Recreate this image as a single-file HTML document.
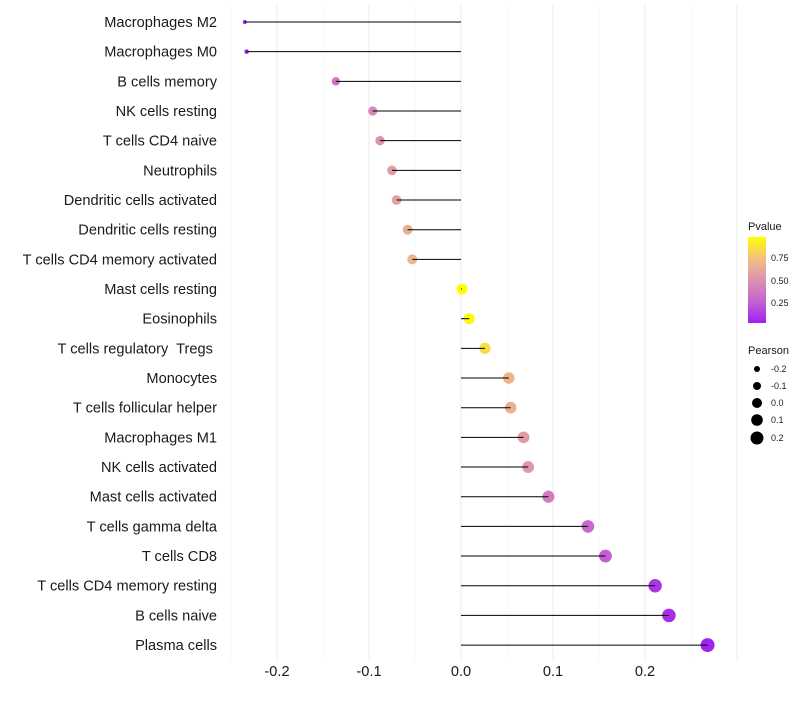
<!DOCTYPE html>
<html><head><meta charset="utf-8"><style>
body{margin:0;background:#fff;font-family:"Liberation Sans",sans-serif}
text{white-space:pre}
</style></head><body>
<svg id="chart" width="800" height="700" xmlns="http://www.w3.org/2000/svg">
<defs><linearGradient id="pg" x1="0" y1="1" x2="0" y2="0">
<stop offset="0" stop-color="#a020f0"/><stop offset="0.25" stop-color="#c463d0"/><stop offset="0.5" stop-color="#dc92b0"/><stop offset="0.75" stop-color="#f2c080"/><stop offset="1" stop-color="#ffff00"/></linearGradient></defs>
<g id="grid"></g><g id="marks"></g><g id="labels"></g>
<g>
<text x="748" y="230" font-size="11" fill="#1a1a1a">Pvalue</text>
<rect x="748" y="237" width="18" height="86" fill="url(#pg)"/>
<text x="771" y="261" font-size="9" fill="#1a1a1a">0.75</text>
<text x="771" y="284" font-size="9" fill="#1a1a1a">0.50</text>
<text x="771" y="306" font-size="9" fill="#1a1a1a">0.25</text>
</g>
<g>
<text x="748" y="354" font-size="11" fill="#1a1a1a">Pearson</text>
<circle cx="757" cy="369" r="3" fill="#000"/><text x="771" y="372" font-size="9" fill="#1a1a1a">-0.2</text>
<circle cx="757" cy="386" r="4" fill="#000"/><text x="771" y="389" font-size="9" fill="#1a1a1a">-0.1</text>
<circle cx="757" cy="403" r="5" fill="#000"/><text x="771" y="406" font-size="9" fill="#1a1a1a">0.0</text>
<circle cx="757" cy="420" r="5.8" fill="#000"/><text x="771" y="423" font-size="9" fill="#1a1a1a">0.1</text>
<circle cx="757" cy="438" r="6.5" fill="#000"/><text x="771" y="441" font-size="9" fill="#1a1a1a">0.2</text>
</g>
</svg>
<script>
const categories=["Macrophages M2","Macrophages M0","B cells memory","NK cells resting","T cells CD4 naive","Neutrophils","Dendritic cells activated","Dendritic cells resting","T cells CD4 memory activated","Mast cells resting","Eosinophils","T cells regulatory  Tregs ","Monocytes","T cells follicular helper","Macrophages M1","NK cells activated","Mast cells activated","T cells gamma delta","T cells CD8","T cells CD4 memory resting","B cells naive","Plasma cells"];
const pearson=[-0.235,-0.233,-0.136,-0.096,-0.088,-0.075,-0.070,-0.058,-0.053,0.001,0.009,0.026,0.052,0.054,0.068,0.073,0.095,0.138,0.157,0.211,0.226,0.268];
const pvalues=[0.03,0.04,0.35,0.45,0.5,0.55,0.58,0.65,0.68,0.99,0.95,0.85,0.68,0.66,0.55,0.52,0.4,0.3,0.25,0.1,0.08,0.04];
const xTicks=[-0.2,-0.1,0.0,0.1,0.2];
const ns="http://www.w3.org/2000/svg";
const X=v=>461+v*920;
const Y=i=>22+i*29.67;
const R=v=>2+5*Math.sqrt(Math.max(0,(v+0.235)/0.503));
const stops=[[160,32,240],[196,99,208],[220,146,176],[242,192,128],[255,255,0]];
function col(p){let t=Math.max(0,Math.min(1,(p-0.03)/0.94))*4;const k=Math.min(3,Math.floor(t));const f=t-k;const c=stops[k].map((a,j)=>Math.round(a+(stops[k+1][j]-a)*f));return `rgb(${c})`;}
function el(tag,attrs,parent){const e=document.createElementNS(ns,tag);for(const k in attrs)e.setAttribute(k,attrs[k]);parent.appendChild(e);return e;}
const grid=document.getElementById('grid'),marks=document.getElementById('marks'),labels=document.getElementById('labels');
for(let i=-5;i<=6;i++){const v=i*0.05;const g=el('line',{x1:X(v),x2:X(v),y1:5,y2:662,stroke:i%2?'#f4f4f4':'#ebebeb','stroke-width':i%2?0.6:1},grid);

}
categories.forEach((c,i)=>{
const l=el('line',{x1:X(0),x2:X(pearson[i]),y1:Y(i),y2:Y(i),stroke:'#000','stroke-width':1},marks);


const p=el('circle',{cx:X(pearson[i]),cy:Y(i),r:R(pearson[i]),fill:col(pvalues[i])},marks);


marks.insertBefore(p,l);
const t=el('text',{x:217,y:Y(i)+5,'text-anchor':'end','font-size':14.6,fill:'#1a1a1a'},labels);
t.textContent=c;


});
xTicks.forEach(v=>{const t=el('text',{x:X(v),y:676,'text-anchor':'middle','font-size':14.6,fill:'#1a1a1a'},labels);
t.textContent=v.toFixed(1);

});
</script>
</body></html>
